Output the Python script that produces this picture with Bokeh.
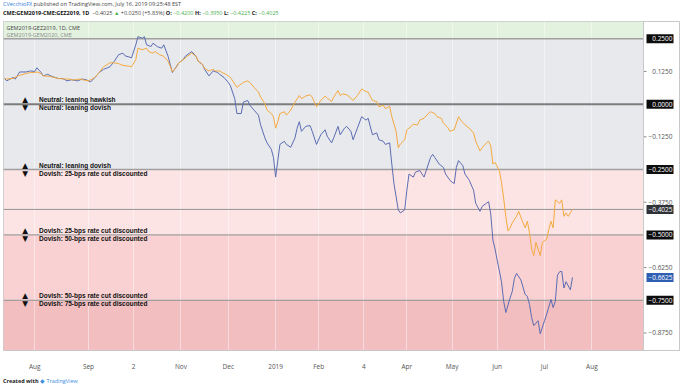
from bokeh.plotting import figure
from bokeh.layouts import column
from bokeh.models import Range1d, FixedTicker, BoxAnnotation, Span, Div
from bokeh.core.properties import value
from bokeh.embed import file_html
from bokeh.resources import INLINE

# ---------------- data (bar index = trading-day count since chart start) ----------------
gez_bar = [0, 1, 4, 6, 7, 10, 12, 14, 15, 17, 18, 21, 23, 25, 28, 30, 32, 35, 37, 39,
           42, 44, 46, 49, 51, 53, 55, 58, 59, 61, 62, 64, 66, 67, 69, 70, 72, 74, 76, 77,
           78, 80, 81, 83, 85, 87, 89, 90, 92, 93, 95, 97, 98, 100, 101, 103, 105, 107, 108, 110,
           111, 113, 114, 116, 118, 119, 121, 122, 124, 125, 126, 127, 128, 130, 131, 133, 135, 137, 138, 140,
           142, 143, 144, 145, 147, 149, 150, 152, 153, 155, 156, 157, 159, 161, 162, 164, 166, 168, 169, 171,
           173, 174, 176, 177, 179, 180, 182, 183, 184, 186, 187, 189, 190, 192, 193, 195, 197, 198, 200, 201,
           203, 204, 206, 207, 209, 211, 212, 214, 216, 218, 219, 221, 222, 224, 225, 226, 227, 228, 230, 231,
           232, 233, 234, 235, 236, 238, 239, 241, 242, 243, 244, 245, 246, 247, 249, 250, 252, 253, 254, 255,
           256, 258, 259, 260, 261, 262, 264]
gez_val = [0.098, 0.096, 0.098, 0.108, 0.110, 0.117, 0.121, 0.121, 0.123, 0.117, 0.108, 0.106, 0.102, 0.098, 0.096, 0.096, 0.092, 0.096, 0.092, 0.089,
           0.102, 0.121, 0.143, 0.158, 0.158, 0.155, 0.148, 0.145, 0.143, 0.170, 0.214, 0.208, 0.214, 0.201, 0.195, 0.201, 0.189, 0.183, 0.164, 0.145,
           0.123, 0.143, 0.158, 0.170, 0.183, 0.195, 0.183, 0.164, 0.152, 0.136, 0.127, 0.133, 0.127, 0.127, 0.121, 0.114, 0.102, 0.077, 0.064, 0.077,
           0.083, 0.089, 0.083, 0.064, 0.046, 0.027, 0.002, -0.023, -0.036, -0.048, -0.092, -0.067, -0.036, -0.029, -0.042, -0.023, 0.008, 0.033, 0.021, 0.031,
           0.036, 0.027, 0.008, -0.010, 0.014, 0.031, 0.023, 0.010, 0.027, 0.052, 0.033, 0.039, 0.036, 0.023, 0.014, 0.033, 0.058, 0.048, 0.046, 0.014,
           0.010, -0.010, -0.004, -0.017, -0.008, -0.048, -0.104, -0.167, -0.152, -0.136, -0.098, -0.085, -0.077, -0.079, -0.061, -0.054, -0.036, -0.029, -0.036, -0.048,
           -0.054, -0.073, -0.089, -0.104, -0.098, -0.048, -0.061, -0.079, -0.092, -0.110, -0.142, -0.179, -0.167, -0.148, -0.142, -0.160, -0.229, -0.223, -0.254, -0.300,
           -0.360, -0.430, -0.485, -0.473, -0.454, -0.429, -0.410, -0.454, -0.473, -0.448, -0.491, -0.554, -0.579, -0.529, -0.579, -0.529, -0.516, -0.479, -0.448, -0.473,
           -0.366, -0.379, -0.366, -0.429, -0.416, -0.429, -0.4025]

gem20_bar = [0, 1, 4, 5, 7, 10, 12, 14, 15, 17, 18, 20, 22, 25, 27, 29, 31, 34, 36, 38,
             40, 42, 44, 46, 49, 51, 53, 55, 56, 58, 59, 61, 62, 64, 65, 66, 68, 69, 71, 73,
             74, 76, 77, 78, 80, 81, 83, 84, 86, 87, 89, 90, 92, 93, 95, 97, 99, 100, 102, 104,
             105, 107, 108, 110, 111, 113, 114, 116, 118, 119, 121, 122, 124, 125, 126, 127, 128, 130, 131, 133,
             135, 136, 137, 138, 140, 142, 143, 144, 145, 147, 149, 150, 152, 153, 155, 156, 158, 159, 161, 162,
             164, 166, 168, 169, 171, 173, 174, 176, 177, 179, 180, 181, 183, 184, 186, 187, 188, 190, 191, 193,
             195, 197, 198, 199, 200, 202, 204, 205, 207, 208, 209, 210, 211, 213, 214, 216, 218, 219, 221, 222,
             224, 225, 226, 227, 228, 229, 231, 232, 233, 235, 236, 237, 238, 240, 242, 243, 244, 245, 246, 248,
             249, 251, 252, 254, 255, 256, 257, 258, 259, 260, 261, 263, 264]
gem20_val = [0.098, 0.089, 0.102, 0.096, 0.123, 0.123, 0.127, 0.125, 0.139, 0.121, 0.108, 0.114, 0.106, 0.098, 0.098, 0.089, 0.093, 0.089, 0.096, 0.093,
             0.085, 0.102, 0.121, 0.133, 0.143, 0.164, 0.189, 0.195, 0.185, 0.180, 0.177, 0.227, 0.258, 0.252, 0.258, 0.227, 0.220, 0.233, 0.220, 0.214,
             0.227, 0.183, 0.152, 0.121, 0.145, 0.158, 0.170, 0.183, 0.195, 0.201, 0.183, 0.164, 0.152, 0.133, 0.108, 0.127, 0.121, 0.114, 0.102, 0.083,
             0.070, 0.021, -0.036, -0.036, 0.008, 0.014, -0.004, -0.023, -0.042, -0.079, -0.129, -0.148, -0.173, -0.204, -0.279, -0.216, -0.154, -0.142, -0.154, -0.165,
             -0.129, -0.092, -0.067, -0.104, -0.085, -0.082, -0.104, -0.129, -0.154, -0.117, -0.098, -0.123, -0.148, -0.129, -0.085, -0.117, -0.092, -0.085, -0.104, -0.136,
             -0.092, -0.048, -0.061, -0.054, -0.117, -0.110, -0.136, -0.142, -0.154, -0.148, -0.229, -0.304, -0.404, -0.416, -0.404, -0.329, -0.267, -0.279, -0.260, -0.254,
             -0.279, -0.229, -0.204, -0.192, -0.204, -0.229, -0.242, -0.267, -0.291, -0.298, -0.304, -0.242, -0.216, -0.235, -0.267, -0.291, -0.329, -0.379, -0.410, -0.391,
             -0.379, -0.373, -0.420, -0.520, -0.554, -0.597, -0.679, -0.754, -0.797, -0.741, -0.716, -0.666, -0.647, -0.672, -0.728, -0.735, -0.766, -0.816, -0.847, -0.828,
             -0.878, -0.828, -0.803, -0.747, -0.778, -0.754, -0.654, -0.641, -0.639, -0.703, -0.679, -0.710, -0.6625]

time_tick_bars = [14, 39, 60, 82, 104, 126, 146, 167, 187, 208, 229, 251, 273]
time_tick_labels = ["Aug", "Sep", "2", "Nov", "Dec", "2019", "Feb", "4", "Apr", "May", "Jun", "Jul", "Aug"]
plain_price_ticks = [0.125, -0.125, -0.375, -0.625, -0.875]
boxed_prices = [0.25, 0.0, -0.25, -0.5, -0.75]

zone_tops = [None, 0.25, -0.25, -0.5, -0.75]
zone_bottoms = [0.25, -0.25, -0.5, -0.75, None]
zone_colors = ["#e3f2df", "#e8e9ed", "#fde4e4", "#f9d1d2", "#f2bec0"]

levels = [0.0, -0.25, -0.5, -0.75]
above_texts = ["Neutral: leaning hawkish", "Neutral: leaning dovish",
               "Dovish: 25-bps rate cut discounted", "Dovish: 50-bps rate cut discounted"]
below_texts = ["Neutral: leaning dovish", "Dovish: 25-bps rate cut discounted",
               "Dovish: 50-bps rate cut discounted", "Dovish: 75-bps rate cut discounted"]

legend_texts = ["GEM2019-GEZ2019, 1D, CME", "GEM2019-GEM2020, CME"]

last_gez = -0.4025
last_gem20 = -0.6625


def fmt(v):
    return f"{v:.4f}".replace("-", "\u2212")


# ---------------- layout constants ----------------
W = 680          # total width
FH = 336         # frame height
FW = W - 4       # frame width (3px left border, 1px right border)
PLOT_W = 640     # width of the price-chart part of the frame
X0 = -0.5
PE = 297.0       # bar where the price scale starts
PXB = (PE - X0) / PLOT_W       # bars per pixel
X1 = X0 + FW * PXB
Y_BOT, Y_TOP = -0.942, 0.316

p = figure(width=W, height=FH + 16, x_range=Range1d(X0, X1), y_range=Range1d(Y_BOT, Y_TOP),
           output_backend="svg", toolbar_location=None, y_axis_location=None,
           min_border_left=3, min_border_right=1, min_border_top=0, min_border_bottom=16,
           background_fill_color="white", border_fill_color="white",
           outline_line_color="#c8c8c8")

# zones
for t, b, c in zip(zone_tops, zone_bottoms, zone_colors):
    p.add_layout(BoxAnnotation(top=t, bottom=b, right=PE, fill_color=c, fill_alpha=1.0,
                               line_alpha=0, level="image"))

# faint vertical grid
p.xgrid.ticker = FixedTicker(ticks=time_tick_bars)
p.xgrid.grid_line_color = "#ffffff"
p.xgrid.grid_line_alpha = 0.45
p.ygrid.grid_line_color = None

# separator between chart and price scale
p.add_layout(Span(location=PE, dimension="height", line_color="#c8c8c8", line_width=1))

# level lines
lv_all = [0.25, -0.25, -0.5, -0.75]
p.segment(x0=[X0] * len(lv_all), x1=[PE] * len(lv_all), y0=lv_all, y1=lv_all,
          line_color="#a0a0a0", line_width=1.3)
p.segment(x0=[X0], x1=[PE], y0=[0.0], y1=[0.0], line_color="#7c7c7c", line_width=2)
p.segment(x0=[X0], x1=[PE], y0=[last_gez], y1=[last_gez], line_color="#939393", line_width=1)

# series
p.line(gem20_bar, gem20_val, line_color="#5b6cb2", line_width=1)
p.line(gez_bar, gez_val, line_color="#f4a93f", line_width=1)

# zone annotations
ann_font = value("Liberation Sans")
n = len(levels)
TXT_X = 16.0
TRI_X = 9.5
p.text(x=[TXT_X] * n, y=levels, text=above_texts, text_font=ann_font, text_font_style="bold",
       text_font_size="6.5px", text_baseline="middle", text_color="#111111", y_offset=-4.5)
p.text(x=[TXT_X] * n, y=levels, text=below_texts, text_font=ann_font, text_font_style="bold",
       text_font_size="6.5px", text_baseline="middle", text_color="#111111", y_offset=3.5)
p.text(x=[TRI_X] * n, y=levels, text=["\u25b2"] * n, text_font=value("DejaVu Sans"),
       text_font_size="7.5px", text_baseline="middle", text_align="center", text_color="#111111", y_offset=-4.5)
p.text(x=[TRI_X] * n, y=levels, text=["\u25bc"] * n, text_font=value("DejaVu Sans"),
       text_font_size="7.5px", text_baseline="middle", text_align="center", text_color="#111111", y_offset=3.5)

# price scale (inside the frame, right of the separator)
sfont = value("Open Sans")
np_ = len(plain_price_ticks)
p.segment(x0=[PE] * np_, x1=[PE + 3 * PXB] * np_, y0=plain_price_ticks, y1=plain_price_ticks,
          line_color="#888888", line_width=1)
p.text(x=[PE + 29 * PXB] * np_, y=plain_price_ticks, text=[fmt(t) for t in plain_price_ticks],
       text_font=sfont, text_font_size="6.5px", text_color="#555555",
       text_align="right", text_baseline="middle")

box_vals = boxed_prices + [last_gez, last_gem20]
box_cols = ["#0d0d0d"] * len(boxed_prices) + ["#2f3237", "#2f5fb3"]
p.rect(x=[PE + 16.5 * PXB] * len(box_vals), y=box_vals, width=27, height=9,
       width_units="screen", height_units="screen", fill_color=box_cols, line_color=None)
p.text(x=[PE + 29 * PXB] * len(box_vals), y=box_vals, text=[fmt(v) for v in box_vals],
       text_font=sfont, text_font_size="6.5px", text_color="white",
       text_align="right", text_baseline="middle")

# legend inside chart (top-left corner of the frame)
p.text(x=[X0, X0], y=[Y_TOP, Y_TOP], text=legend_texts, x_offset=3, y_offset=[6, 13],
       text_font=sfont, text_font_size="5.5px", text_color=["#444444", "#8a8a8a"],
       text_baseline="middle")

# time axis
xa = p.xaxis[0]
xa.ticker = FixedTicker(ticks=time_tick_bars)
xa.major_label_overrides = {b: l for b, l in zip(time_tick_bars, time_tick_labels)}
xa.major_label_text_font = "Open Sans"
xa.major_label_text_font_size = "6.5px"
xa.major_label_text_color = "#555555"
xa.axis_line_color = "#c8c8c8"
xa.major_tick_line_color = None
xa.minor_tick_line_color = None
xa.major_label_standoff = 5

# header and footer
G = "#4caf50"
hdr_style = {"font-family": "Open Sans, Liberation Sans, sans-serif", "font-size": "5.5px",
             "line-height": "9px", "white-space": "nowrap", "color": "#444444",
             "padding-left": "3px", "overflow": "visible"}
header = Div(width=W, height=21, margin=0, styles=hdr_style, text=(
    '<div style="line-height:9px"><span style="color:#2f7bd8">CVecchioFX</span> published on TradingView.com, '
    'July 16, 2019 09:25:48 EST</div>'
    '<div style="line-height:9px"><b style="color:#111">CME:GEM2019-CME:GEZ2019, 1D</b>&nbsp; \u22120.4025 '
    f'<span style="color:{G}">\u25b2</span> +0.0250 (+5.83%) '
    f'<b style="color:#111">O:</b> <span style="color:{G}">\u22120.4200</span> '
    f'<b style="color:#111">H:</b> <span style="color:{G}">\u22120.3950</span> '
    f'<b style="color:#111">L:</b> <span style="color:{G}">\u22120.4225</span> '
    f'<b style="color:#111">C:</b> <span style="color:{G}">\u22120.4025</span></div>'))
ftr_style = dict(hdr_style)
ftr_style["line-height"] = "17px"
footer = Div(width=W, height=17, margin=0, styles=ftr_style, text=(
    '<b style="color:#222">Created with</b> '
    '<span style="color:#3d8fe0">\u25c6 TradingView</span>'))

layout = column(header, p, footer, spacing=0)
open("out.html", "w").write(file_html(layout, INLINE))
